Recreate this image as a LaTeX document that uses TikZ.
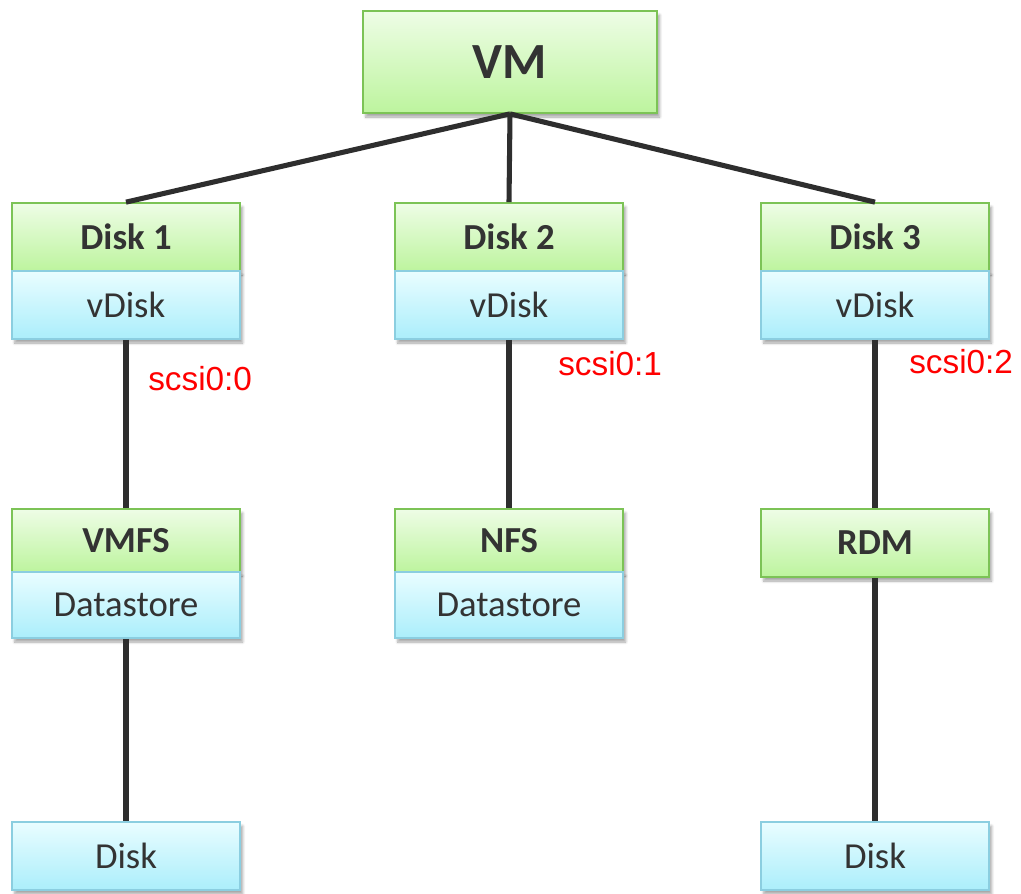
\documentclass[tikz,border=0pt]{standalone}
\usepackage{fontspec}
\setmainfont{Carlito}
\newfontfamily\portfont{Liberation Sans}
\usetikzlibrary{shadows.blur}
\definecolor{greenTop}{HTML}{EEFDE6}
\definecolor{greenBot}{HTML}{BDF49E}
\definecolor{greenEdge}{HTML}{7CC356}
\definecolor{blueTop}{HTML}{E9FDFF}
\definecolor{blueBot}{HTML}{ABEEFB}
\definecolor{blueEdge}{HTML}{8BCEE0}
\definecolor{ink}{HTML}{333333}
\definecolor{wire}{HTML}{2E2E2E}
\definecolor{portred}{HTML}{FF0000}
\begin{document}
\begin{tikzpicture}[x=0.75pt,y=-0.75pt,
  box/.style={rectangle, inner sep=0pt, line width=1.3pt, text=ink,
    minimum width=171pt, font=\fontsize{27.5}{30}\selectfont,
    blur shadow={shadow xshift=2pt, shadow yshift=-3pt, shadow blur steps=6, shadow opacity=35}},
  greenbox/.style={box, draw=greenEdge, top color=greenTop, bottom color=greenBot,
    font=\fontsize{27.5}{30}\selectfont\bfseries},
  bluebox/.style={box, draw=blueEdge, top color=blueTop, bottom color=blueBot},
  wireline/.style={draw=wire, line width=3.8pt},
  port/.style={text=portred, inner sep=0pt, anchor=base west,
    font=\portfont\fontsize{25}{28}\selectfont}]
\useasboundingbox (0,0) rectangle (1021,893);

% virtual machine
\node[greenbox, minimum width=220.5pt, minimum height=76.5pt,
      font=\fontsize{38}{40}\selectfont\bfseries] (vm) at (510,62) {VM};

% virtual disks
\node[greenbox, minimum height=51pt] (d1) at (126,237) {Disk 1};
\node[bluebox,  minimum height=51pt] (v1) at (126,305) {vDisk};
\node[greenbox, minimum height=51pt] (d2) at (509,237) {Disk 2};
\node[bluebox,  minimum height=51pt] (v2) at (509,305) {vDisk};
\node[greenbox, minimum height=51pt] (d3) at (875,237) {Disk 3};
\node[bluebox,  minimum height=51pt] (v3) at (875,305) {vDisk};

% backing storage
\node[greenbox, minimum height=47.25pt] (vmfs) at (126,540.5) {VMFS};
\node[bluebox,  minimum height=49.5pt]  (ds1)  at (126,605) {Datastore};
\node[greenbox, minimum height=47.25pt] (nfs)  at (509,540.5) {NFS};
\node[bluebox,  minimum height=49.5pt]  (ds2)  at (509,605) {Datastore};
\node[greenbox, minimum height=51pt]    (rdm)  at (875,543) {RDM};

% physical disks
\node[bluebox, minimum height=51pt] (pd1) at (126,856) {Disk};
\node[bluebox, minimum height=51pt] (pd3) at (875,856) {Disk};

% connectors
\draw[wireline] (vm.south) -- (d1.north);
\draw[wireline] (vm.south) -- (d2.north);
\draw[wireline] (vm.south) -- (d3.north);
\draw[wireline] (v1.south) -- (vmfs.north);
\draw[wireline] (v2.south) -- (nfs.north);
\draw[wireline] (v3.south) -- (rdm.north);
\draw[wireline] (ds1.south) -- (pd1.north);
\draw[wireline] (rdm.south) -- (pd3.north);

% SCSI controller ports
\node[port] (p0) at (148,390) {scsi0:0};
\node[port] (p1) at (558,375) {scsi0:1};
\node[port] (p2) at (909,373) {scsi0:2};
\end{tikzpicture}
\end{document}
